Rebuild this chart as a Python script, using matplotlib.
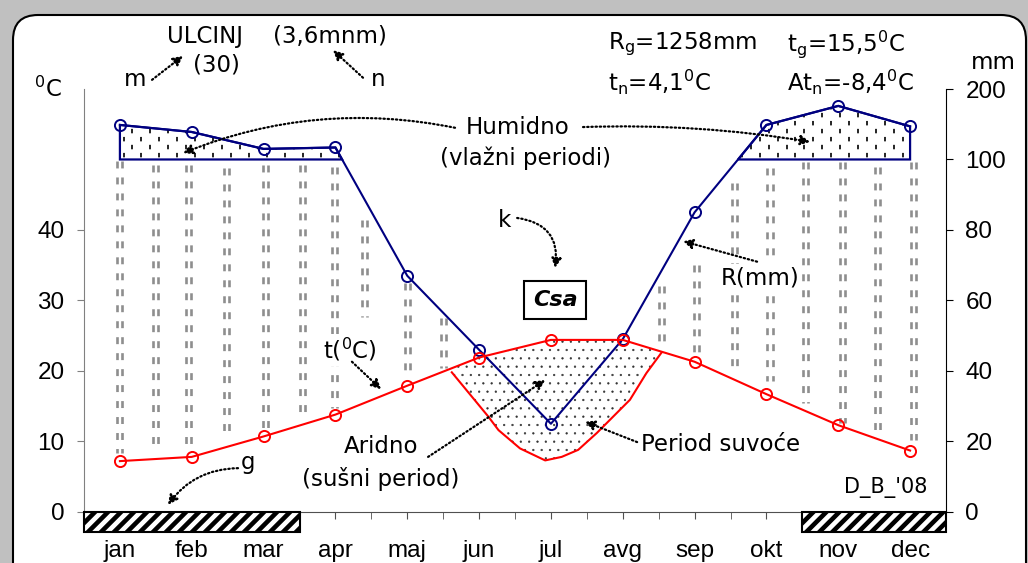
import matplotlib
matplotlib.use("Agg")
import matplotlib.pyplot as plt
import numpy as np
from matplotlib.patches import FancyBboxPatch, Polygon, Rectangle
from matplotlib.transforms import IdentityTransform

plt.rcParams['font.family'] = ['DejaVu Sans']
plt.rcParams['mathtext.default'] = 'regular'
plt.rcParams['lines.scale_dashes'] = False
plt.rcParams['hatch.color'] = 'black'
plt.rcParams['hatch.linewidth'] = 0.4

# monthly data, Ulcinj
months = ["jan", "feb", "mar", "apr", "maj", "jun", "jul", "avg", "sep", "okt", "nov", "dec"]
temp = [7.2, 7.8, 10.7, 13.8, 17.9, 21.9, 24.4, 24.4, 21.3, 16.7, 12.3, 8.7]
precip = [149, 139, 115, 117, 67, 46, 25, 49, 85, 149, 176, 147]
frost = ["jan", "feb", "mar", "nov", "dec"]

# gray columns (month units, deg C scale)
col_x = [0.5, 1.0, 1.46, 1.98, 2.53, 3.04, 3.49, 3.91, 4.51, 5.01,
         8.04, 8.53, 9.05, 9.55, 10.05, 10.56, 11.04, 11.55]
col_top = [49.8, 49.2, 49.2, 48.8, 49.2, 49.2, 49.0, 41.4, 32.5, 27.5,
           32.0, 35.0, 46.6, 48.8, 49.7, 49.7, 49.0, 49.7]
col_bot = [8.4, 9.5, 9.5, 11.3, 11.9, 14.1, 14.8, 27.7, 20.1, 20.4,
           24.2, 22.5, 19.7, 18.5, 15.5, 12.6, 11.6, 10.2]

# lower outline of the dry period
dry_x = [5.12, 5.63, 5.77, 6.07, 6.42, 6.65, 6.88, 7.14, 7.60, 7.83, 8.04]
dry_y = [19.8, 13.5, 11.6, 9.0, 7.3, 7.8, 8.8, 11.2, 15.9, 19.7, 22.6]


def pscale(p):
    p = np.asarray(p, float)
    return np.where(p <= 100, p / 2, 50 + (p - 100) / 10)


def above(xs, ys, lvl):
    polys, cur = [], []
    for i in range(len(xs)):
        if ys[i] >= lvl:
            if not cur:
                if i > 0:
                    x0 = xs[i-1] + (lvl - ys[i-1]) / (ys[i] - ys[i-1]) * (xs[i] - xs[i-1])
                else:
                    x0 = xs[i]
                cur.append((x0, lvl))
            cur.append((xs[i], ys[i]))
        elif cur:
            x1 = xs[i-1] + (lvl - ys[i-1]) / (ys[i] - ys[i-1]) * (xs[i] - xs[i-1])
            cur.append((x1, lvl))
            polys.append(cur)
            cur = []
    if cur:
        cur.append((xs[-1], lvl))
        polys.append(cur)
    return polys


x = np.arange(12) + 0.5
py = pscale(precip)

fig = plt.figure(figsize=(10.28, 5.63), dpi=100)
fig.patch.set_facecolor('#c0c0c0')
frame = FancyBboxPatch((13, -60), 1013, 548 + 60, boxstyle='round,pad=0,rounding_size=25',
                       transform=IdentityTransform(), fc='white', ec='black', lw=1.5, zorder=-1)
fig.patches.append(frame)

ax = fig.add_axes([84 / 1028, 30 / 563, 862 / 1028, 444 / 563])
ax.set_xlim(0, 12)
ax.set_ylim(-3, 60)

# gray columns
dx = 0.035
for off in (-dx, dx):
    ax.vlines(np.array(col_x) + off, col_top, col_bot, colors='#8e8e8e', lw=1.9,
              linestyles=[(0, (5.0, 6.5))], zorder=1)

# humid period
for pts in above(x, py, 50):
    poly = Polygon(pts, closed=True, fc='white', ec='navy', lw=1.6, zorder=2)
    ax.add_patch(poly)
    xs = np.arange(pts[0][0] + 0.05, pts[-1][0], 0.125)
    for k, xx in enumerate(xs):
        ln = ax.vlines(xx, 60, 50, colors='black', lw=1.2,
                       linestyles=[((k % 2) * 5.8, (3.2, 8.3))], zorder=2.5)
        ln.set_clip_path(poly)

# dry period
top_x = np.concatenate([[dry_x[0]], x[(x > dry_x[0]) & (x < dry_x[-1])], [dry_x[-1]]])
top_y = np.interp(top_x, x, temp)
bot = list(zip(dry_x, dry_y))[::-1]
dry = Polygon(list(zip(top_x, top_y)) + bot, closed=True, fc='white', ec='#333333', lw=0,
              hatch='..', zorder=2)
ax.add_patch(dry)
ax.plot(dry_x, dry_y, color='red', lw=1.5, zorder=3)

# curves
ax.plot(x, py, color='navy', lw=1.5, marker='o', ms=8, mfc='none', mew=1.4, zorder=4)
ax.plot(x, temp, color='red', lw=1.5, marker='o', ms=8, mfc='none', mew=1.4, zorder=4)

# frost months
idx = sorted(months.index(m) for m in frost)
groups = []
for i in idx:
    if groups and groups[-1][1] == i:
        groups[-1][1] = i + 1
    else:
        groups.append([i, i + 1])
for g0, g1 in groups:
    rect = Rectangle((g0, -2.8), g1 - g0, 2.8, fc='white', ec='black', lw=1.5,
                     zorder=6, clip_on=False)
    ax.add_patch(rect)
    for s in np.arange(g0 - 0.3, g1, 0.181):
        ln, = ax.plot([s, s + 0.274], [-2.8, 0], color='black', lw=3.3, zorder=6)
        ln.set_clip_path(rect)

# axes look
tick_font = dict(family='Liberation Sans', size=17.5)
ax.spines['top'].set_visible(False)
ax.spines['right'].set_visible(False)
ax.spines['left'].set_bounds(0, 60)
ax.spines['left'].set_color('#808080')
ax.spines['bottom'].set_position(('data', 0))
ax.spines['bottom'].set_color('#505050')
ax.set_yticks([0, 10, 20, 30, 40])
ax.set_yticklabels(['0', '10', '20', '30', '40'], fontdict=tick_font)
ax.tick_params(axis='y', length=5, color='#808080', pad=9)
ax.set_xticks(x)
ax.set_xticklabels(months, fontdict=tick_font)
ax.set_xticks(np.arange(13), minor=True)
ax.tick_params(axis='x', which='both', length=5, color='#505050', pad=15)

ax2 = ax.twinx()
ax2.set_ylim(-3, 60)
for s in ('top', 'left', 'bottom'):
    ax2.spines[s].set_visible(False)
ax2.spines['right'].set_bounds(0, 60)
ax2.set_yticks([0, 10, 20, 30, 40, 50, 60])
ax2.set_yticklabels(['0', '20', '40', '60', '80', '100', '200'], fontdict=tick_font)
ax2.tick_params(axis='y', length=5, pad=9)

# texts
fs = 16.5
ax.text(1.685, 67.4, 'ULCINJ', fontsize=fs, ha='center', va='center')
ax.text(3.425, 67.4, '(3,6mnm)', fontsize=fs, ha='center', va='center')
ax.text(1.838, 63.4, '(30)', fontsize=fs, ha='center', va='center')
ax.text(0.71, 61.3, 'm', fontsize=fs, ha='center', va='center')
ax.text(4.09, 61.3, 'n', fontsize=fs, ha='center', va='center')
ax.text(-0.5, 60.0, '$^0$C', fontsize=fs, ha='center', va='center')
ax.text(12.655, 63.7, 'mm', fontsize=fs, ha='center', va='center')
ax.text(7.295, 66.3, 'R$_g$=1258mm', fontsize=fs, ha='left', va='center')
ax.text(9.787, 66.3, 't$_g$=15,5$^0$C', fontsize=fs, ha='left', va='center')
ax.text(7.295, 60.9, 't$_n$=4,1$^0$C', fontsize=fs, ha='left', va='center')
ax.text(9.787, 60.9, 'At$_n$=-8,4$^0$C', fontsize=fs, ha='left', va='center')
ax.text(6.04, 54.5, 'Humidno', fontsize=fs, ha='center', va='center')
ax.text(6.14, 50.2, '(vlažni periodi)', fontsize=fs, ha='center', va='center')
ax.text(5.86, 41.4, 'k', fontsize=fs, ha='center', va='center')
ax.text(6.557, 30.1, 'Csa', fontsize=16, ha='center', va='center', weight='bold', style='italic',
        bbox=dict(boxstyle='square,pad=0.4', fc='white', ec='black', lw=1.5), zorder=7)
ax.text(9.41, 33.2, 'R(mm)', fontsize=fs, ha='center', va='center',
        bbox=dict(boxstyle='square,pad=0.1', fc='white', ec='none'), zorder=7)
ax.text(3.70, 23.0, 't($^0$C)', fontsize=fs, ha='center', va='center',
        bbox=dict(boxstyle='square,pad=0.1', fc='white', ec='none'), zorder=7)
ax.text(4.135, 9.3, 'Aridno', fontsize=fs, ha='center', va='center', zorder=7)
ax.text(4.135, 4.6, '(sušni period)', fontsize=fs, ha='center', va='center', zorder=7)
ax.text(7.755, 9.5, 'Period suvoće', fontsize=fs, ha='left', va='center', zorder=7)
ax.text(2.29, 7.0, 'g', fontsize=fs, ha='center', va='center', zorder=7)
ax.text(11.74, 3.5, "D_B_'08", fontsize=15, ha='right', va='center', zorder=7)

arrows = [
    ((0.947, 61.3), (1.378, 64.7), 0.0),
    ((3.884, 61.6), (3.467, 65.5), 0.0),
    ((5.165, 54.5), (1.378, 50.9), 0.15),
    ((6.947, 54.6), (10.107, 52.5), -0.05),
    ((6.03, 41.7), (6.557, 34.6), -0.5),
    ((9.37, 35.5), (8.34, 38.4), 0.0),
    ((3.73, 21.3), (4.135, 17.4), 0.0),
    ((4.79, 7.8), (6.42, 18.7), 0.0),
    ((7.70, 9.9), (6.975, 12.8), 0.0),
    ((2.144, 6.2), (1.17, 1.0), 0.25),
]
for start, end, rad in arrows:
    ax.annotate('', xy=end, xytext=start, zorder=8, annotation_clip=False,
                arrowprops=dict(arrowstyle='-|>,head_length=0.35,head_width=0.18',
                                linestyle=(0, (1, 2)), lw=1.6, color='black',
                                shrinkA=0, shrinkB=0, mutation_scale=16,
                                connectionstyle=f'arc3,rad={rad}'))

fig.savefig('out.png', dpi=100, facecolor=fig.get_facecolor())
